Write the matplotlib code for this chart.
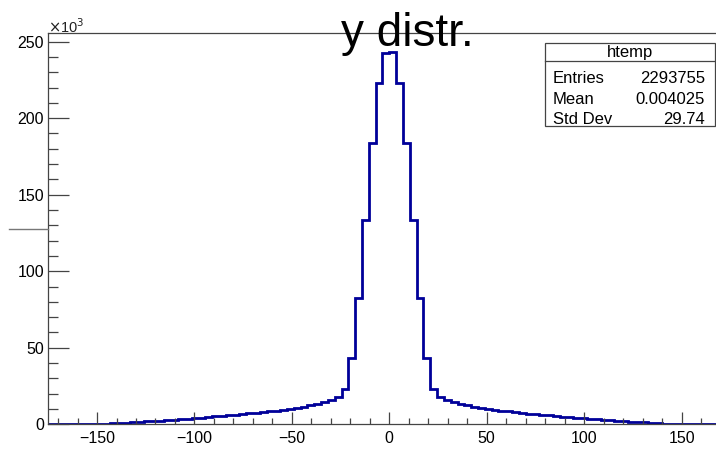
import numpy as np
import matplotlib
matplotlib.use("Agg")
import matplotlib.pyplot as plt
from matplotlib.patches import Rectangle
from matplotlib.lines import Line2D
from matplotlib.ticker import MultipleLocator

plt.rcParams["font.family"] = ["Liberation Sans", "DejaVu Sans"]

# ── data: y distribution, 100 bins from -175 to 175, counts in units of 1e3 ──
x_lo, x_hi, n_bins = -175.0, 175.0, 100
counts_k = [
    0.0, 0.0, 0.0, 0.0, 0.01, 0.02, 0.05, 0.1, 0.4, 0.7,
    0.9, 1.1, 1.3, 1.6, 1.9, 2.1, 2.4, 2.7, 3.0, 3.3,
    3.7, 4.1, 4.4, 4.8, 5.1, 5.5, 5.9, 6.3, 6.7, 7.1,
    7.5, 8.0, 8.5, 9.0, 9.6, 10.2, 10.9, 11.6, 12.4, 13.3,
    14.4, 15.9, 17.6, 22.9, 43.1, 82.7, 133.5, 183.6, 223.2, 242.8,
    243.3, 222.8, 183.6, 133.5, 82.5, 43.0, 22.9, 17.6, 15.8, 14.3,
    13.3, 12.3, 11.5, 10.8, 10.1, 9.5, 8.9, 8.4, 7.9, 7.4,
    7.0, 6.6, 6.2, 5.8, 5.4, 5.0, 4.7, 4.3, 4.0, 3.6,
    3.3, 2.9, 2.6, 2.3, 2.0, 1.7, 1.4, 1.2, 0.9, 0.7,
    0.4, 0.1, 0.05, 0.02, 0.0, 0.0, 0.0, 0.0, 0.0, 0.0,
]
hist_name = "htemp"
stat_labels = ["Entries", "Mean", "Std Dev"]
stat_values = ["2293755", "0.004025", "29.74"]
title = "y distr."

W, H = 716, 457
fig = plt.figure(figsize=(W / 100, H / 100), dpi=100)

# frame: left edge at px 48, top at 33, bottom at 424; right edge falls off the image
ax_l, ax_r, ax_t, ax_b = 48.3, 730.3, 33.3, 424.3
ax = fig.add_axes([ax_l / W, 1 - ax_b / H, (ax_r - ax_l) / W, (ax_b - ax_t) / H])

edges = np.linspace(x_lo, x_hi, n_bins + 1)
ax.stairs(counts_k, edges, color="#000099", linewidth=2.0, baseline=0)

ax.set_xlim(x_lo, x_hi)
ax.set_ylim(0, 1.05 * max(counts_k))

ax.xaxis.set_major_locator(MultipleLocator(50))
ax.xaxis.set_minor_locator(MultipleLocator(10))
ax.yaxis.set_major_locator(MultipleLocator(50))
ax.yaxis.set_minor_locator(MultipleLocator(10))

axis_col = "#444444"
for sp in ax.spines.values():
    sp.set_color(axis_col)
    sp.set_linewidth(0.9)

ax.tick_params(axis="x", which="major", direction="in", length=8.5, width=0.9,
               color=axis_col, labelsize=11.5, pad=5)
ax.tick_params(axis="x", which="minor", direction="in", length=4.3, width=0.9,
               color=axis_col)
ax.tick_params(axis="y", which="major", direction="in", length=15, width=0.9,
               color=axis_col, labelsize=11.5, pad=3)
ax.tick_params(axis="y", which="minor", direction="in", length=7.5, width=0.9,
               color=axis_col)
ax.tick_params(top=False, right=False, which="both")
ax.xaxis.set_major_formatter(plt.FuncFormatter(lambda v, p: f"{v:g}".replace("-", "\u2212")))

# exponent marker
fig.text(ax_l / W, 1 - 27 / H, r"$\times$10$^{3}$", fontsize=10.5,
         ha="left", va="center", color="#222222")

# title
fig.text(407 / W, 1 - 34 / H, title, fontsize=33, ha="center", va="center")

# stats box
bx0, bx1, by0, by1, bsep = 545, 715, 42.7, 126, 61
fig.add_artist(Rectangle((bx0 / W, 1 - by1 / H), (bx1 - bx0) / W, (by1 - by0) / H,
                         transform=fig.transFigure, fill=True, facecolor="white",
                         edgecolor=axis_col, linewidth=0.9))
fig.add_artist(Line2D([bx0 / W, bx1 / W], [1 - bsep / H, 1 - bsep / H],
                      transform=fig.transFigure, color=axis_col, linewidth=0.9))
fig.text((bx0 + bx1) / 2 / W, 1 - 52.5 / H, hist_name, fontsize=12,
         ha="center", va="center")
row_y = [78.3, 99.0, 119.0]
for lab, val, ry in zip(stat_labels, stat_values, row_y):
    fig.text(553 / W, 1 - ry / H, lab, fontsize=12, ha="left", va="center")
    fig.text(705 / W, 1 - ry / H, val, fontsize=12, ha="right", va="center")

# stray line at the left edge of the canvas
fig.add_artist(Line2D([9 / W, ax_l / W], [1 - 229 / H, 1 - 229 / H],
                      transform=fig.transFigure, color="#777777", linewidth=1.0))

fig.savefig("out.png", dpi=100)
